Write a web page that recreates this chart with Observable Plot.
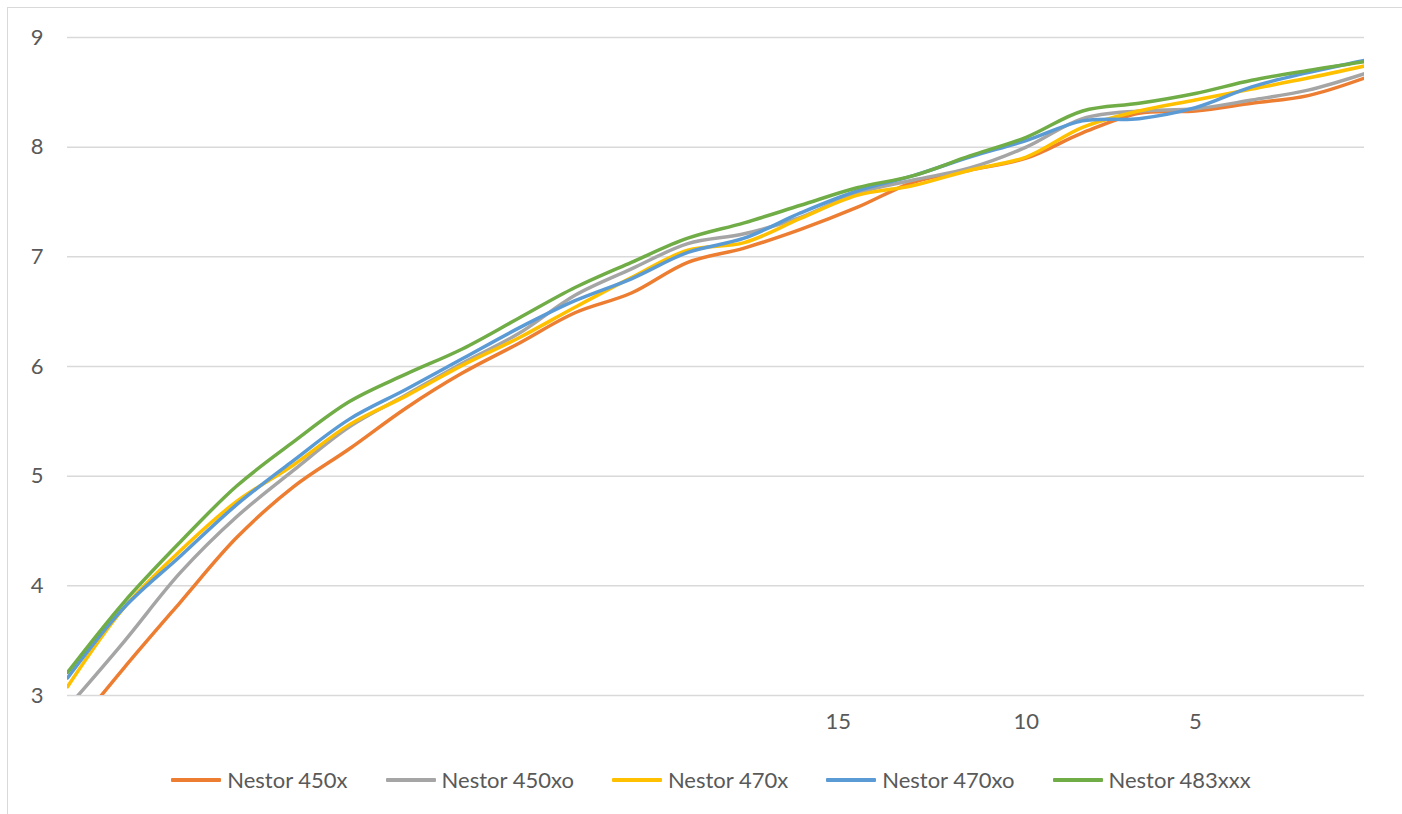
<!DOCTYPE html>
<html>
<head>
<meta charset="utf-8">
<script src="https://cdn.jsdelivr.net/npm/d3@7"></script>
<script src="https://cdn.jsdelivr.net/npm/@observablehq/plot@0.6"></script>
<style>
  html, body { margin: 0; padding: 0; background: #fff; }
  #frame { position: absolute; left: 7px; top: 7px; width: 1430px; height: 850px; border: 1.5px solid #d9d9d9; box-sizing: border-box; }
  #chart { position: absolute; left: 0; top: 0; }
  #legend { position: absolute; left: 0; top: 766px; width: 1402px; padding-left: 20px; box-sizing: border-box;
            display: flex; justify-content: center; align-items: center; gap: 38px;
            font-family: Lato, "Open Sans", sans-serif; font-size: 22px; color: #595959; }
  .item { display: flex; align-items: center; }
  .sw { width: 50px; height: 4px; margin-right: 6px; border-radius: 1px; }
</style>
</head>
<body>
<div id="frame"></div>
<div id="chart"></div>
<div id="legend"></div>
<script>
// category positions (index along the category axis) where values were read
const xIndex = [0,3,6,9,12,15,18,21,24,27,30,33,36,39,42,45,48,51,54,57,60,63,66,69];
const xTickPositions = [41, 51, 60];
const xTickLabels = ["15", "10", "5"];
const yTicks = [3, 4, 5, 6, 7, 8, 9];

const seriesNames = ["Nestor 450x", "Nestor 450xo", "Nestor 470x", "Nestor 470xo", "Nestor 483xxx"];
const seriesColors = ["#ED7D31", "#A5A5A5", "#FFC000", "#5B9BD5", "#70AD47"];

const nestor450x   = [2.62,3.25,3.85,4.44,4.90,5.25,5.62,5.94,6.21,6.49,6.67,6.95,7.08,7.25,7.45,7.68,7.79,7.90,8.13,8.31,8.33,8.40,8.47,8.63];
const nestor450xo  = [2.89,3.49,4.12,4.63,5.05,5.45,5.74,6.03,6.30,6.65,6.89,7.12,7.21,7.36,7.58,7.70,7.81,8.00,8.26,8.33,8.35,8.43,8.52,8.67];
const nestor470x   = [3.08,3.80,4.32,4.77,5.10,5.47,5.73,6.01,6.26,6.54,6.81,7.06,7.13,7.35,7.56,7.65,7.79,7.91,8.18,8.33,8.43,8.53,8.63,8.74];
const nestor470xo  = [3.16,3.80,4.27,4.74,5.14,5.52,5.79,6.07,6.35,6.60,6.80,7.04,7.17,7.40,7.60,7.74,7.91,8.06,8.24,8.26,8.36,8.55,8.68,8.79];
const nestor483xxx = [3.21,3.85,4.40,4.91,5.31,5.68,5.93,6.16,6.44,6.72,6.95,7.17,7.31,7.47,7.63,7.74,7.92,8.09,8.33,8.40,8.49,8.61,8.70,8.78];

const seriesValues = [nestor450x, nestor450xo, nestor470x, nestor470xo, nestor483xxx];

const rows = [];
seriesNames.forEach((name, s) => {
  seriesValues[s].forEach((v, i) => rows.push({series: name, x: xIndex[i], y: v}));
});

const plot = Plot.plot({
  width: 1402,
  height: 750,
  marginLeft: 67,
  marginRight: 38,
  marginTop: 37,
  marginBottom: 55,
  style: { fontFamily: "Lato, 'Open Sans', sans-serif", fontSize: "22px", color: "#595959", background: "transparent" },
  x: { domain: [0, 69] },
  y: { domain: [3, 9] },
  color: { domain: seriesNames, range: seriesColors },
  marks: [
    Plot.gridY(yTicks, { stroke: "#d9d9d9", strokeOpacity: 1, strokeWidth: 1.5 }),
    Plot.axisY(yTicks, { tickSize: 0, tickPadding: 24, label: null, fill: "#595959", tickFormat: (d) => String(d) }),
    Plot.axisX(xTickPositions, { tickSize: 0, tickPadding: 18, label: null, fill: "#595959",
      tickFormat: (d) => xTickLabels[xTickPositions.indexOf(d)] }),
    Plot.line(rows, { x: "x", y: "y", z: "series", stroke: "series", strokeWidth: 3.5,
      curve: "catmull-rom", clip: true, strokeLinecap: "round", strokeLinejoin: "round" })
  ]
});
document.getElementById("chart").appendChild(plot);

const legend = document.getElementById("legend");
seriesNames.forEach((name, i) => {
  const it = document.createElement("div");
  it.className = "item";
  const sw = document.createElement("div");
  sw.className = "sw";
  sw.style.background = seriesColors[i];
  const tx = document.createElement("span");
  tx.textContent = name;
  it.appendChild(sw);
  it.appendChild(tx);
  legend.appendChild(it);
});
</script>
</body>
</html>
